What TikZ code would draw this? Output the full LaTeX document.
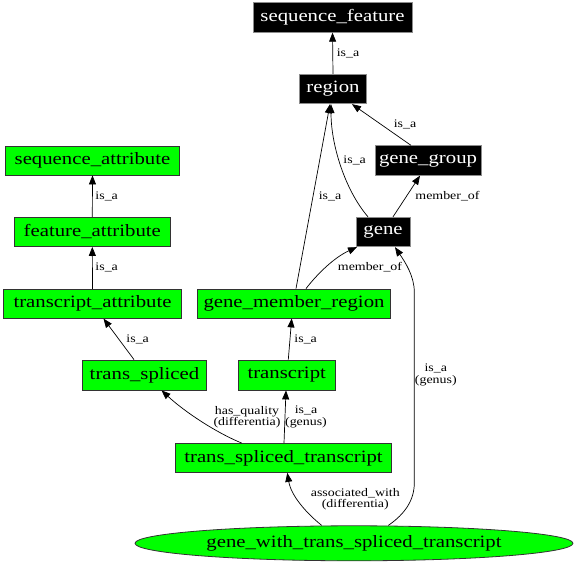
\documentclass[tikz,border=0pt]{standalone}
\usepackage{fontspec}
\setmainfont{Liberation Serif}
\newfontfamily\gvnodefont[FakeStretch=1.2]{Liberation Serif}
\newfontfamily\gvlabfont[FakeStretch=1.2]{Liberation Serif}
\usetikzlibrary{arrows.meta,calc,shapes.geometric}
\definecolor{gvgreen}{HTML}{00FF00}
\tikzset{
  gbox/.style={draw=black!80, fill=gvgreen, line width=0.8pt, inner sep=0pt, minimum height=29pt, font=\gvnodefont\fontsize{17.3}{19}\selectfont},
  bbox/.style={draw=black!45, fill=black, text=white, line width=0.8pt, inner sep=0pt, minimum height=29.5pt, font=\gvnodefont\fontsize{17.3}{19}\selectfont},
  gell/.style={draw=black!80, fill=gvgreen, ellipse, line width=0.8pt, inner sep=0pt, minimum width=438pt, minimum height=35pt, font=\gvnodefont\fontsize{17.3}{19}\selectfont},
  arr/.style={draw=black, line width=0.7pt, -{Triangle[length=9pt,width=7pt]}},
  lab/.style={font=\gvlabfont\fontsize{11.6}{11.5}\selectfont, align=center, inner sep=0pt}
}
\begin{document}
\begin{tikzpicture}[x=1pt,y=-1pt]
\useasboundingbox (0,0) rectangle (576,564);
% nodes
\node[bbox, minimum width=159pt] (sf) at (332.5,17.5) {sequence\_feature};
\node[bbox, minimum width=67pt] (region) at (333,89) {region};
\node[bbox, minimum width=106pt] (gg) at (428,160.5) {gene\_group};
\node[bbox, minimum width=54pt] (gene) at (383,232) {gene};
\node[gbox, minimum width=174pt] (sa) at (92.5,160.5) {sequence\_attribute};
\node[gbox, minimum width=156pt] (fa) at (92.3,232) {feature\_attribute};
\node[gbox, minimum width=178pt] (ta) at (92.5,303.7) {transcript\_attribute};
\node[gbox, minimum width=193pt] (gmr) at (294,303.5) {gene\_member\_region};
\node[gbox, minimum width=124pt, minimum height=30pt] (ts) at (144.5,375) {trans\_spliced};
\node[gbox, minimum width=97pt, minimum height=30pt] (tr) at (286.7,375) {transcript};
\node[gbox, minimum width=216pt] (tst) at (283.5,458) {trans\_spliced\_transcript};
\node[gell] (gw) at (354,543.3) {gene\_with\_trans\_spliced\_transcript};
% edges
\draw[arr] (region.north) -- (sf.south);
\node[lab] (l1) at (348,53.3) {is\_a};
\draw[arr] ($(gg.north)+(-17,0)$) -- ($(region.south)+(19,0)$);
\node[lab] (l2) at (405,124.3) {is\_a};
\draw[arr] ($(gene.north)+(-15,0)$) .. controls (345,190) and (331,145) .. ($(region.south)+(-2,0)$);
\node[lab] (l3) at (354.7,160.7) {is\_a};
\draw[arr] ($(gene.north)+(10,0)$) -- ($(gg.south)+(-8,0)$);
\node[lab] (l4) at (447.5,196) {member\_of};
\draw[arr] ($(gmr.north)+(2,0)$) -- ($(region.south)+(-3,0)$);
\node[lab] (l5) at (330,196.7) {is\_a};
\draw[arr] ($(gmr.north)+(12,0)$) .. controls (318,273) and (335,257) .. ($(gene.south)+(-26,0)$);
\node[lab] (l6) at (370,267) {member\_of};
\draw[arr] (ta.north) -- (fa.south);
\node[lab] (l7) at (106.7,267.7) {is\_a};
\draw[arr] (fa.north) -- (sa.south);
\node[lab] (l8) at (106.7,196.3) {is\_a};
\draw[arr] ($(ts.north)+(-10.5,0)$) -- ($(ta.south)+(11,0)$);
\node[lab] (l9) at (137.7,339.3) {is\_a};
\draw[arr] ($(tr.north)+(1.6,0)$) -- ($(gmr.south)+(-2.3,0)$);
\node[lab] (l10) at (305.7,339.3) {is\_a};
\draw[arr] ($(tst.north)+(-41.8,0)$) .. controls (215,432) and (185,412) .. ($(ts.south)+(17,0)$);
\node[lab] (l11) at (247,417) {has\_quality\\(differentia)};
\draw[arr] ($(tst.north)+(0.5,0)$) -- ($(tr.south)+(-0.7,0)$);
\node[lab] (l12) at (306,417) {is\_a\\(genus)};
\draw[arr] ($(gw.north)+(-32.3,0)$) .. controls (305,512) and (291,495) .. ($(tst.south)+(3.8,0)$);
\node[lab] (l13) at (355.3,499) {associated\_with\\(differentia)};
\coordinate (v1) at (414.3,483);
\coordinate (v2) at (414.3,292);
\draw[arr] ($(gw.north)+(34.3,0)$) .. controls (405,514) and (414.3,500) .. (v1) -- (v2) .. controls (414.3,276) and (405,262) .. ($(gene.south)+(12,0)$);
\node[lab] (l14) at (435.8,375) {is\_a\\(genus)};
\end{tikzpicture}
\end{document}
